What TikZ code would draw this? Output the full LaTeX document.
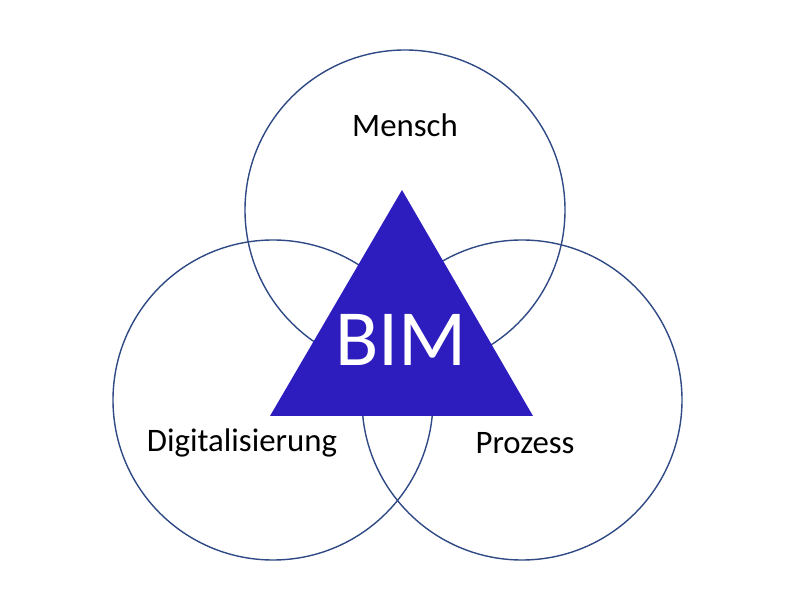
\documentclass[tikz,border=0pt]{standalone}
\usepackage{fontspec}
\setmainfont{Carlito}
\usetikzlibrary{positioning}
\definecolor{ringblue}{HTML}{2F4A85}
\definecolor{bimblue}{HTML}{2D1DBE}

\begin{document}
\begin{tikzpicture}
  [x=0.03cm, y=-0.03cm,
  ring/.style={draw=ringblue, line width=1.2pt},
  label/.style={font=\fontsize{28}{32}\selectfont, text=black}]
\useasboundingbox (0,0) rectangle (800,600);
\draw [ring] (405,210) circle (160);
\draw [ring] (273,400) circle (160);
\draw [ring] (522,400) circle (160);
\coordinate (apex) at (402,190);
\coordinate (baseL) at (270,416);
\coordinate (baseR) at (533,416);
\fill [bimblue] (apex) -- (baseL) -- (baseR) -- cycle;
\node (bim) at (401,340) [text=white, font=\fontsize{68}{72}\selectfont] {BIM};
\node (mensch) at (405,125) [label] {Mensch};
\node (digital) at (242,443) [label] {Digitalisierung};
\node (prozess) at (525,443) [label] {Prozess};
\end{tikzpicture}
\end{document}
